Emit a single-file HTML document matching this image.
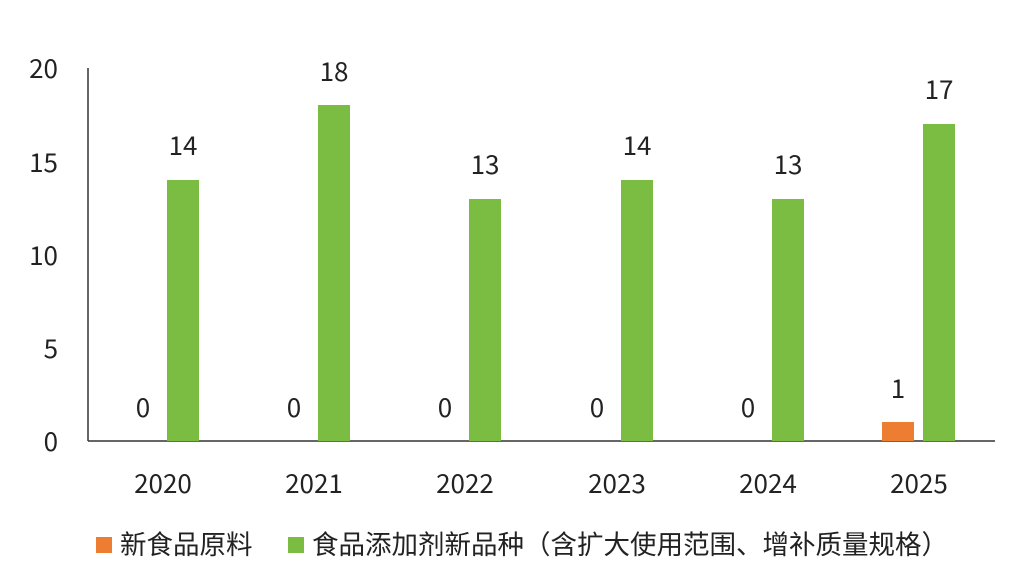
<!DOCTYPE html>
<html><head><meta charset="utf-8"><style>
body{margin:0;background:#fff;}
svg{display:block;font-family:"Noto Sans CJK SC","Liberation Sans",sans-serif;}
</style></head><body>
<svg width="1021" height="582" xmlns="http://www.w3.org/2000/svg">
<g fill="#222" font-size="26">
<text x="58" y="78" text-anchor="end">20</text>
<text x="58" y="172" text-anchor="end">15</text>
<text x="58" y="265" text-anchor="end">10</text>
<text x="58" y="358" text-anchor="end">5</text>
<text x="58" y="451" text-anchor="end">0</text>
</g>
<line x1="88" y1="68" x2="88" y2="441" stroke="#333" stroke-width="1.5"/>
<line x1="88" y1="441" x2="995" y2="441" stroke="#333" stroke-width="1.5"/>
<g fill="#7ABD42">
<rect x="167" y="180" width="32" height="261"/>
<rect x="318" y="105" width="32" height="336"/>
<rect x="469" y="199" width="32" height="242"/>
<rect x="621" y="180" width="32" height="261"/>
<rect x="772" y="199" width="32" height="242"/>
<rect x="923" y="124" width="32" height="317"/>
</g>
<rect x="882" y="422" width="32" height="19" fill="#ED7D31"/>
<g fill="#222" font-size="26" text-anchor="middle">
<text x="183" y="155">14</text>
<text x="334" y="81">18</text>
<text x="485" y="174">13</text>
<text x="637" y="155">14</text>
<text x="788" y="174">13</text>
<text x="939" y="99">17</text>
<text x="143" y="417">0</text>
<text x="294" y="417">0</text>
<text x="445" y="417">0</text>
<text x="597" y="417">0</text>
<text x="748" y="417">0</text>
<text x="898" y="398">1</text>
<text x="163" y="493">2020</text>
<text x="314" y="493">2021</text>
<text x="465" y="493">2022</text>
<text x="617" y="493">2023</text>
<text x="768" y="493">2024</text>
<text x="919" y="493">2025</text>
</g>
<rect x="96" y="537" width="16" height="16" fill="#ED7D31"/>
<text x="120" y="554" font-size="26.5" fill="#222">新食品原料</text>
<rect x="288" y="537" width="16" height="16" fill="#7ABD42"/>
<text x="312" y="554" font-size="26.5" fill="#222">食品添加剂新品种（含扩大使用范围、增补质量规格）</text>
</svg>
</body></html>
